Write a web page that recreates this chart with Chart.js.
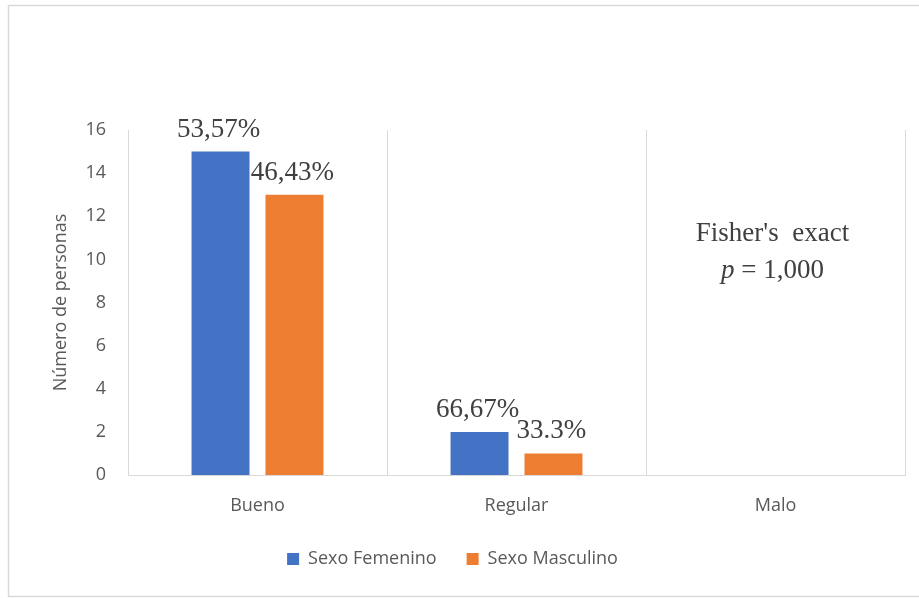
<!DOCTYPE html>
<html>
<head>
<meta charset="utf-8">
<script src="https://cdn.jsdelivr.net/npm/chart.js@4/dist/chart.umd.min.js"></script>
<style>
  html, body { margin: 0; padding: 0; background: #ffffff; }
  #wrap { position: relative; width: 919px; height: 598px; }
</style>
</head>
<body>
<div id="wrap"><canvas id="c" width="919" height="598"></canvas></div>
<script>
const categories = ['Bueno', 'Regular', 'Malo'];
const femenino = [15, 2, 0];
const masculino = [13, 1, 0];
const femeninoLabels = ['53,57%', '66,67%', ''];
const masculinoLabels = ['46,43%', '33.3%', ''];
const seriesNames = ['Sexo Femenino', 'Sexo Masculino'];
const yTicks = [0, 2, 4, 6, 8, 10, 12, 14, 16];
const noteLine1 = "Fisher's  exact";
const noteP = 'p';
const noteRest = ' = 1,000';

const SERIF = '"Liberation Serif", "Times New Roman", serif';
const SANS = '"Open Sans", "Noto Sans", sans-serif';

const borderPlugin = {
  id: 'frame',
  beforeDraw(chart) {
    const ctx = chart.ctx;
    ctx.save();
    ctx.fillStyle = '#ffffff';
    ctx.fillRect(0, 0, chart.width, chart.height);
    ctx.strokeStyle = '#d9d9d9';
    ctx.lineWidth = 1.5;
    ctx.beginPath();
    ctx.moveTo(chart.width, 5.5);
    ctx.lineTo(8.5, 5.5);
    ctx.lineTo(8.5, 596.5);
    ctx.lineTo(chart.width, 596.5);
    ctx.stroke();
    ctx.restore();
  }
};

const labelPlugin = {
  id: 'valueLabels',
  afterDatasetsDraw(chart) {
    const ctx = chart.ctx;
    const texts = [femeninoLabels, masculinoLabels];
    ctx.save();
    ctx.font = '27px ' + SERIF;
    ctx.fillStyle = '#404040';
    ctx.textAlign = 'center';
    ctx.textBaseline = 'alphabetic';
    chart.data.datasets.forEach((ds, i) => {
      const meta = chart.getDatasetMeta(i);
      meta.data.forEach((bar, j) => {
        const t = texts[i][j];
        if (!t) return;
        ctx.fillText(t, bar.x - 2, bar.y - 15);
      });
    });
    // annotation
    const xs = chart.scales.x, ys = chart.scales.y;
    const cx = xs.getPixelForValue(2) - 3;
    ctx.fillText(noteLine1, cx, ys.getPixelForValue(10.85));
    const y2 = ys.getPixelForValue(9.15);
    ctx.font = 'italic 27px ' + SERIF;
    const wP = ctx.measureText(noteP).width;
    ctx.font = '27px ' + SERIF;
    const wR = ctx.measureText(noteRest).width;
    const start = cx - (wP + wR) / 2;
    ctx.textAlign = 'left';
    ctx.font = 'italic 27px ' + SERIF;
    ctx.fillText(noteP, start, y2);
    ctx.font = '27px ' + SERIF;
    ctx.fillText(noteRest, start + wP, y2);
    ctx.restore();
  }
};

new Chart(document.getElementById('c'), {
  type: 'bar',
  data: {
    labels: categories,
    datasets: [
      { label: seriesNames[0], data: femenino, backgroundColor: '#4472C4', borderWidth: 0 },
      { label: seriesNames[1], data: masculino, backgroundColor: '#ED7D31', borderWidth: 0 }
    ]
  },
  options: {
    responsive: false,
    animation: false,
    devicePixelRatio: 1,
    categoryPercentage: 0.571,
    barPercentage: 0.784,
    layout: { padding: { left: 0, right: 14, top: 130, bottom: 20 } },
    plugins: {
      legend: {
        position: 'bottom',
        labels: {
          boxWidth: 12,
          boxHeight: 12,
          padding: 30,
          color: '#595959',
          font: { family: SANS, size: 18 }
        }
      },
      tooltip: { enabled: false }
    },
    scales: {
      x: {
        offset: true,
        grid: { display: true, offset: true, color: '#d9d9d9', drawTicks: false, lineWidth: 1 },
        border: { display: true, color: '#d9d9d9', width: 1 },
        ticks: { color: '#595959', font: { family: SANS, size: 18 }, padding: 20 },
        afterFit(scale) { scale.height = 45; }
      },
      y: {
        min: 0,
        max: 16,
        afterBuildTicks(scale) { scale.ticks = yTicks.map(v => ({ value: v })); },
        grid: { display: false, drawTicks: false },
        border: { display: false },
        ticks: { color: '#595959', font: { family: SANS, size: 18 }, padding: 22 },
        title: {
          display: true,
          text: 'Número de personas',
          color: '#595959',
          font: { family: SANS, size: 18 },
          padding: { top: 50, bottom: 0 }
        },
        afterFit(scale) { scale.width = 128; }
      }
    }
  },
  plugins: [borderPlugin, labelPlugin]
});
</script>
</body>
</html>
